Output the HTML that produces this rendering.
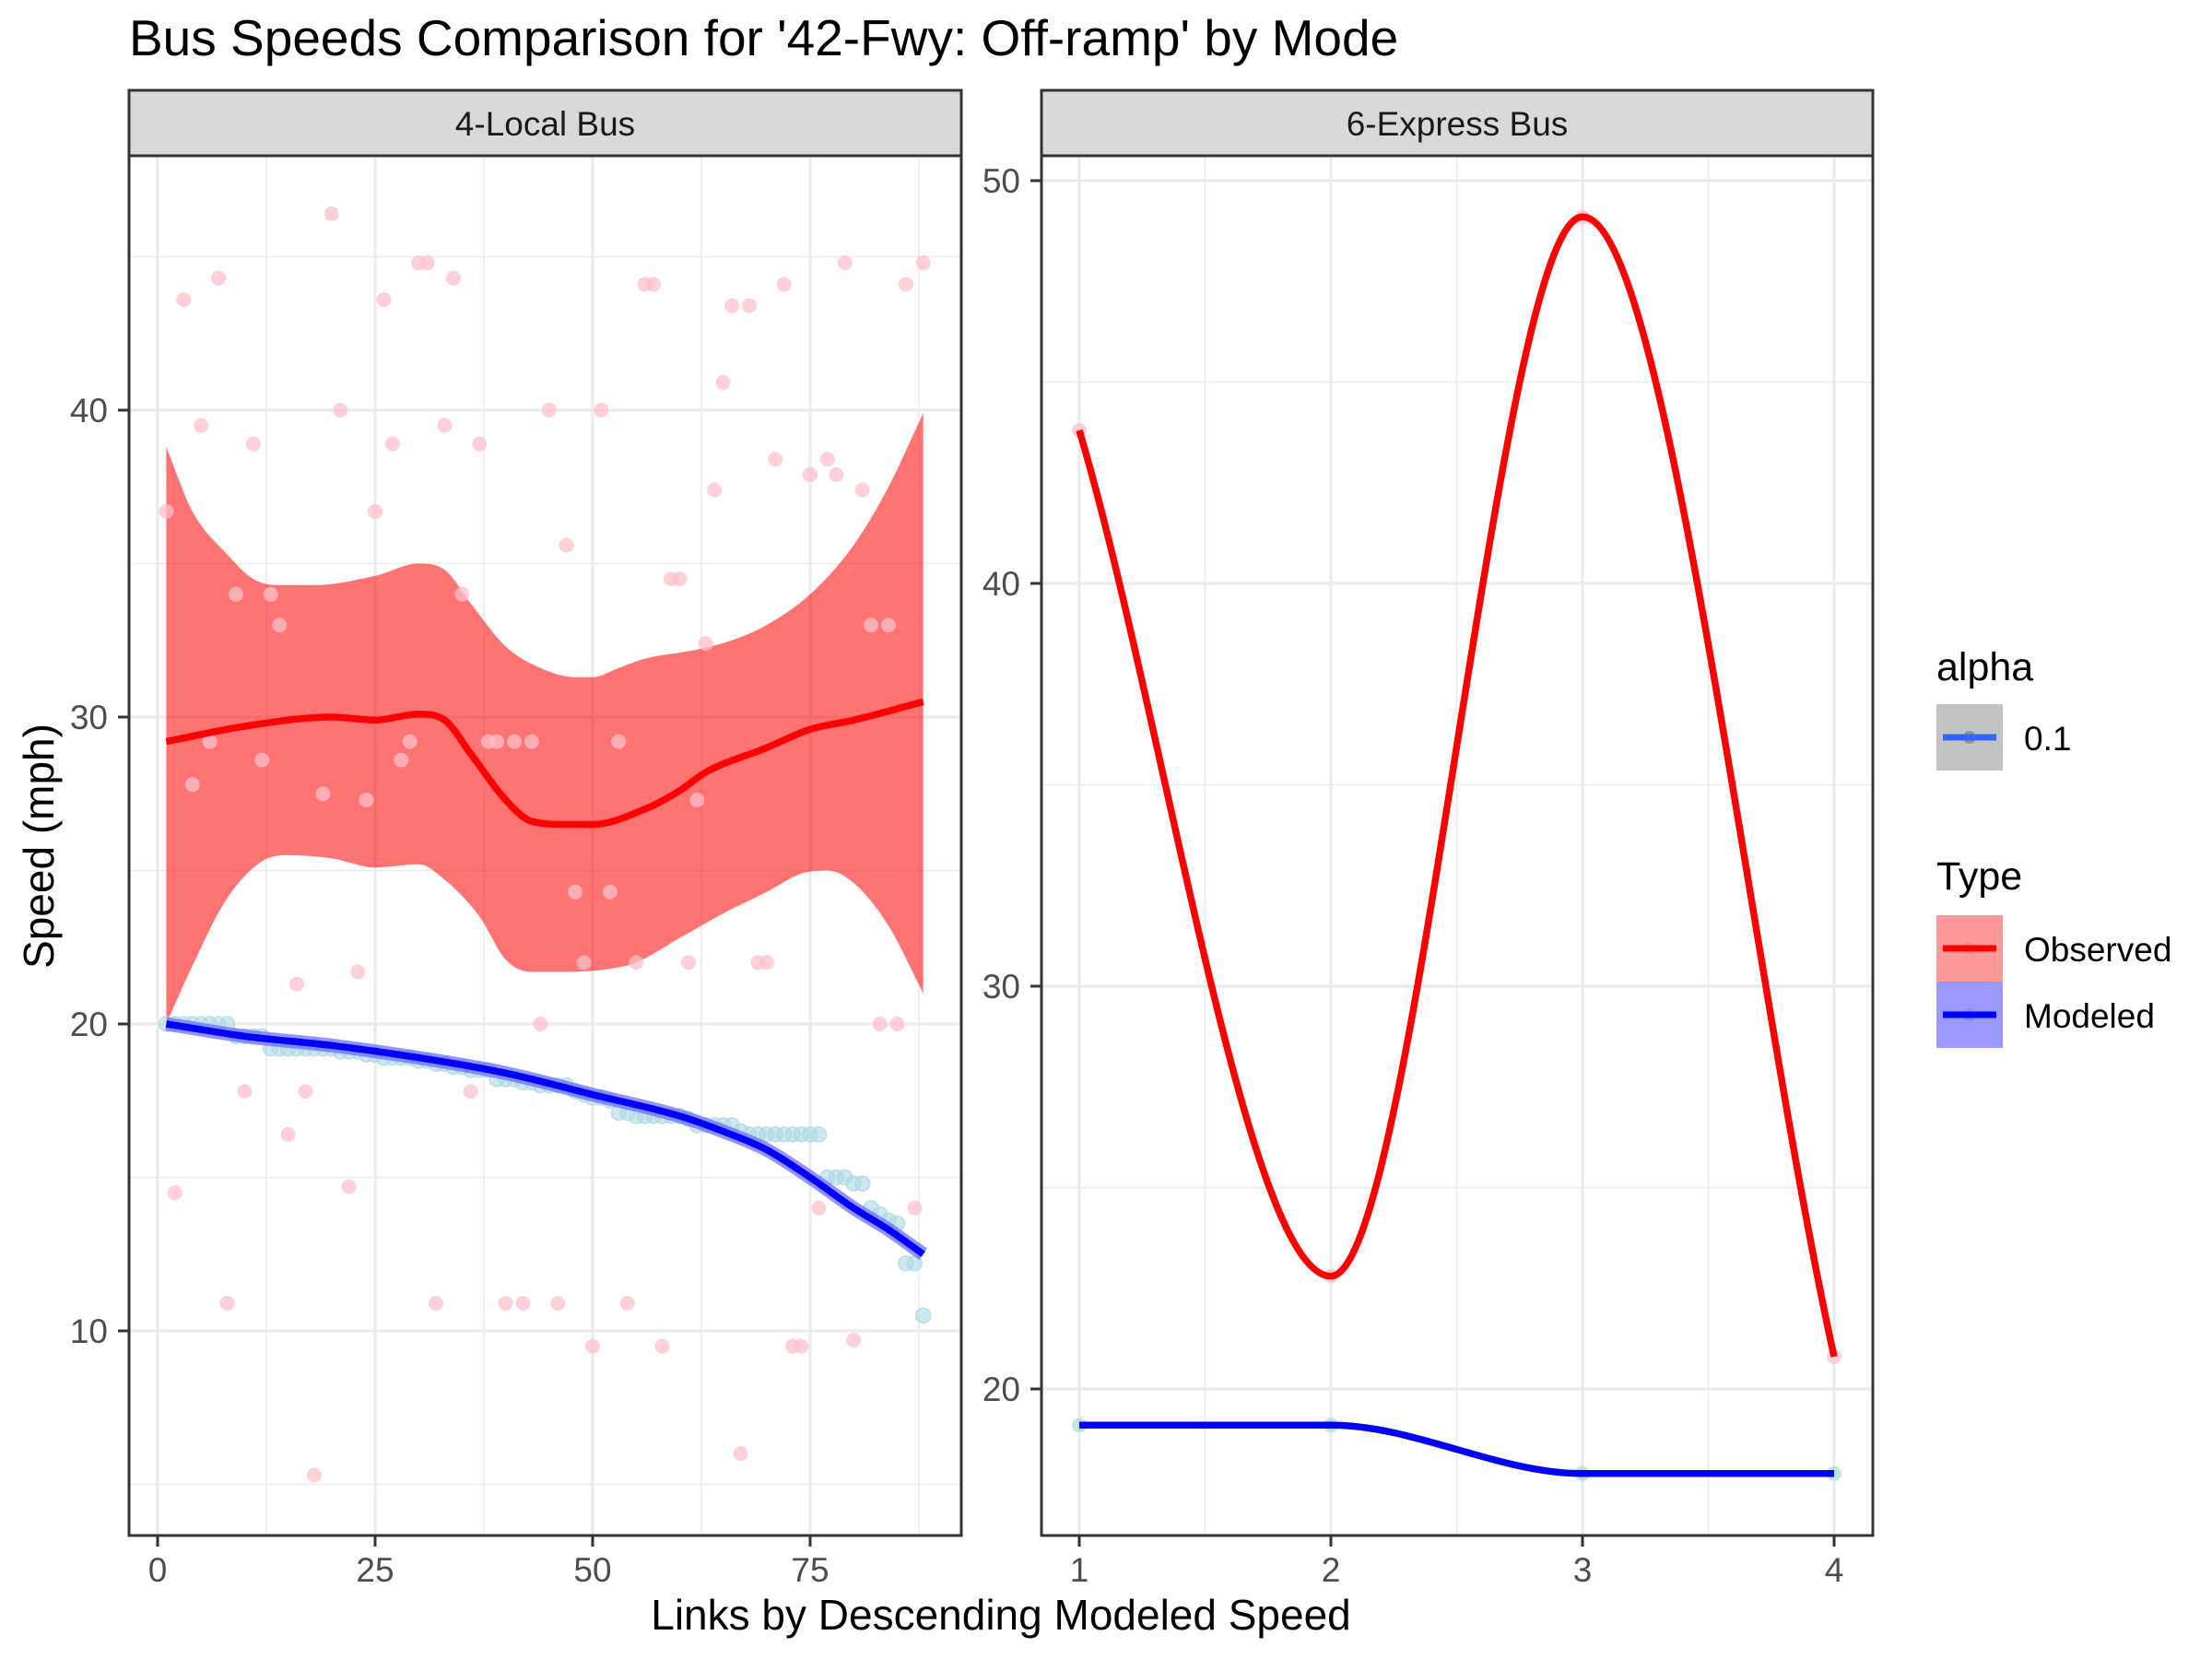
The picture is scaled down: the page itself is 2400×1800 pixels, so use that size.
<!DOCTYPE html>
<html><head><meta charset="utf-8">
<style>
html,body{margin:0;padding:0;background:#fff;}
svg{display:block;font-family:"Liberation Sans",Arial,sans-serif;}
</style></head>
<body>
<svg id="chart" width="2400" height="1800" viewBox="0 0 2400 1800" xmlns="http://www.w3.org/2000/svg">
<rect width="2400" height="1800" fill="#fff"/>
<text x="140" y="60" font-size="55" fill="#000">Bus Speeds Comparison for '42-Fwy: Off-ramp' by Mode</text>
<g id="left"></g>
<g id="right"></g>
<text x="1086" y="1768" font-size="46" text-anchor="middle" fill="#000">Links by Descending Modeled Speed</text>
<text transform="translate(58,918) rotate(-90)" font-size="46" text-anchor="middle" fill="#000">Speed (mph)</text>
<g>
  <text x="2101" y="738" font-size="43" fill="#000">alpha</text>
  <g>
    <rect x="2101" y="764" width="72" height="72" fill="#C2C2C2"/>
    <circle cx="2137" cy="800" r="7" fill="#808080" opacity="0.7"/>
    <line x1="2108" y1="800" x2="2166" y2="800" stroke="#3366FF" stroke-width="7"/>
    <text x="2196" y="814" font-size="37" fill="#000">0.1</text>
  </g>
  <text x="2101" y="965" font-size="43" fill="#000">Type</text>
  <g>
    <rect x="2101" y="993" width="72" height="72" fill="#FF9999"/>
    <circle cx="2137" cy="1029" r="7" fill="#FF7F7F" opacity="0.6"/>
    <line x1="2108" y1="1029" x2="2166" y2="1029" stroke="#FF0000" stroke-width="7"/>
    <text x="2196" y="1043" font-size="37" fill="#000">Observed</text>
  </g>
  <g>
    <rect x="2101" y="1065" width="72" height="72" fill="#9999FF"/>
    <circle cx="2137" cy="1101" r="7" fill="#7F7FFF" opacity="0.6"/>
    <line x1="2108" y1="1101" x2="2166" y2="1101" stroke="#0000FF" stroke-width="7"/>
    <text x="2196" y="1115" font-size="37" fill="#000">Modeled</text>
  </g>
</g>
</svg>
<script>
// ---- Left panel data (4-Local Bus) ----
const localObserved = [36.7,14.5,43.6,27.8,39.5,29.2,44.3,10.9,34,17.8,38.9,28.6,34,33,16.4,21.3,17.8,5.3,27.5,46.4,40,14.7,21.7,27.3,36.7,43.6,38.9,28.6,29.2,44.8,44.8,10.9,39.5,44.3,34,17.8,38.9,29.2,29.2,10.9,29.2,10.9,29.2,20,40,10.9,35.6,24.3,22,9.5,40,24.3,29.2,10.9,22,44.1,44.1,9.5,34.5,34.5,22,27.3,32.4,37.4,40.9,43.4,6,43.4,22,22,38.4,44.1,9.5,9.5,37.9,14,38.4,37.9,44.8,9.7,37.4,33,20,33,20,44.1,14,44.8];
const localModeled = [20,20,20,20,20,20,20,20,19.6,19.6,19.6,19.6,19.2,19.2,19.2,19.2,19.2,19.2,19.2,19.2,19.1,19.1,19.1,19.0,19.0,18.9,18.9,18.9,18.9,18.8,18.8,18.7,18.7,18.6,18.6,18.5,18.5,18.5,18.2,18.2,18.2,18.1,18.1,18.0,18.0,18.0,18.0,17.8,17.7,17.6,17.6,17.5,17.1,17.1,17.0,17.0,17.0,17.0,17.0,17.0,16.9,16.7,16.7,16.7,16.7,16.7,16.5,16.4,16.4,16.4,16.4,16.4,16.4,16.4,16.4,16.4,15.0,15.0,15.0,14.8,14.8,14.0,13.8,13.6,13.5,12.2,12.2,10.5];
const obsSmoothX = [1,10,20,25,30,33,36,40,43,47,50,56,60,63,70,75,80,88];
const obsSmoothY = [29.2,29.7,30,29.9,30.1,29.9,28.8,27.3,26.6,26.5,26.5,27,27.6,28.2,29,29.6,29.9,30.5];
const obsUpperX = [1,4,8,11,14,18,25,30,33,36,40,44,48,50,53,56,62,66,70,75,80,84,88];
const obsUpperY = [38.8,36.7,35.3,34.5,34.3,34.3,34.6,35,34.8,33.7,32.3,31.6,31.3,31.3,31.6,31.9,32.2,32.5,33,34,35.6,37.5,39.9];
const obsLowerX = [1,4,8,12,15,20,25,30,33,37,40,43,47,52,55,60,65,70,74,77,80,84,88];
const obsLowerY = [20,21.9,24.1,25.3,25.5,25.4,25.1,25.2,24.7,23.5,22.1,21.7,21.7,21.8,22,22.8,23.6,24.3,24.9,25,24.6,23.2,21];
const modSmoothX = [1,10,20,30,40,50,60,65,70,75,80,84,88];
const modSmoothY = [20,19.6,19.3,18.9,18.4,17.7,17.0,16.5,15.9,15.0,14.0,13.3,12.5];
const localXTicks = [0,25,50,75];
const localYTicks = [10,20,30,40];
// ---- Right panel data (6-Express Bus) ----
const expressX = [1,2,3,4];
const expressObserved = [43.8,22.8,49.1,20.8];
const expressModeled = [19.1,19.1,17.9,17.9];
const expressXTicks = [1,2,3,4];
const expressYTicks = [20,30,40,50];

const NS = "http://www.w3.org/2000/svg";
function mk(parent, tag, attrs){ const e=document.createElementNS(NS,tag); for(const k in attrs) e.setAttribute(k,attrs[k]); parent.appendChild(e); return e; }

function monoPath(xs, ys, sx, sy){
  const n=xs.length, d=[], m=new Array(n);
  for(let i=0;i<n-1;i++) d.push((ys[i+1]-ys[i])/(xs[i+1]-xs[i]));
  m[0]=d[0]; m[n-1]=d[n-2];
  for(let i=1;i<n-1;i++){ m[i]=(d[i-1]*d[i]<=0)?0:(d[i-1]+d[i])/2; }
  for(let i=0;i<n-1;i++){ if(d[i]===0){m[i]=0;m[i+1]=0;continue;} const a=m[i]/d[i], b=m[i+1]/d[i], s=a*a+b*b; if(s>9){const t=3/Math.sqrt(s); m[i]=t*a*d[i]; m[i+1]=t*b*d[i];} }
  let p="M"+sx(xs[0]).toFixed(1)+","+sy(ys[0]).toFixed(1);
  for(let i=0;i<n-1;i++){ const h=xs[i+1]-xs[i];
    p+=" C"+sx(xs[i]+h/3).toFixed(1)+","+sy(ys[i]+m[i]*h/3).toFixed(1)+" "+sx(xs[i+1]-h/3).toFixed(1)+","+sy(ys[i+1]-m[i+1]*h/3).toFixed(1)+" "+sx(xs[i+1]).toFixed(1)+","+sy(ys[i+1]).toFixed(1); }
  return p;
}
function monoPts(xs, ys, sx, sy){ // path commands without initial M, for band building
  return monoPath(xs,ys,sx,sy).replace(/^M[^C]*/,"");
}

function panel(g, cfg){
  const {L,R,T,B,x0,xs,y0,ys,title} = cfg;
  const sx=v=>x0+(v-cfg.xa)*xs, sy=v=>y0-(v-cfg.ya)*ys;
  mk(g,"rect",{x:L,y:T,width:R-L,height:B-T,fill:"#fff"});
  const grid=mk(g,"g",{});
  
  
  cfg.yMinor.forEach(v=>mk(grid,"line",{x1:L,x2:R,y1:sy(v),y2:sy(v),stroke:"#EBEBEB","stroke-width":1.6}));
  cfg.xMinor.forEach(v=>mk(grid,"line",{y1:T,y2:B,x1:sx(v),x2:sx(v),stroke:"#EBEBEB","stroke-width":1.6}));
  cfg.yTicks.forEach(v=>mk(grid,"line",{x1:L,x2:R,y1:sy(v),y2:sy(v),stroke:"#EBEBEB","stroke-width":3.2}));
  cfg.xTicks.forEach(v=>mk(grid,"line",{y1:T,y2:B,x1:sx(v),x2:sx(v),stroke:"#EBEBEB","stroke-width":3.2}));
  cfg.draw(g,sx,sy);
  const border=mk(g,"rect",{x:L,y:T,width:R-L,height:B-T,fill:"none",stroke:"#333","stroke-width":3});
  
  
  const strip=mk(g,"rect",{x:L,y:98,width:R-L,height:T-98,fill:"#D9D9D9",stroke:"#333","stroke-width":3});
  
  
  const st=mk(g,"text",{x:(L+R)/2,y:147,"font-size":37,"text-anchor":"middle",fill:"#1A1A1A"}); st.textContent=title;
  
  
  cfg.yTicks.forEach(v=>{ mk(g,"line",{x1:L-12,x2:L,y1:sy(v),y2:sy(v),stroke:"#333","stroke-width":3});
    const t=mk(g,"text",{x:L-23,y:sy(v)+13,"font-size":37,"text-anchor":"end",fill:"#4D4D4D"}); t.textContent=v;
    
     });
  cfg.xTicks.forEach(v=>{ mk(g,"line",{y1:B,y2:B+12,x1:sx(v),x2:sx(v),stroke:"#333","stroke-width":3});
    const t=mk(g,"text",{x:sx(v),y:B+50,"font-size":37,"text-anchor":"middle",fill:"#4D4D4D"}); t.textContent=v;
    
     });
}

panel(document.getElementById("left"),{
  L:140,R:1043,T:169,B:1666,x0:171,xa:0,xs:9.44,y0:1111,ya:20,ys:33.3,title:"4-Local Bus",
  xTicks:localXTicks,yTicks:localYTicks,xMinor:[12.5,37.5,62.5,87.5],yMinor:[5,15,25,35,45],
  draw:(g,sx,sy)=>{
    const up=monoPath(obsUpperX,obsUpperY,sx,sy);
    const lx=obsLowerX.slice().reverse(), ly=obsLowerY.slice().reverse();
    const low=monoPath(lx.map(v=>-v),ly,v=>sx(-v),sy).replace(/^M/," L");
    const band=mk(g,"path",{d:up+low+"Z",fill:"#FF0000","fill-opacity":0.55});
    
    
    localObserved.forEach((v,i)=>{ const c=mk(g,"circle",{cx:sx(i+1),cy:sy(v),r:8,fill:"#FFC0CB","fill-opacity":0.75});
      
       });
    localModeled.forEach((v,i)=>{ const c=mk(g,"circle",{cx:sx(i+1),cy:sy(v),r:8,fill:"#ADD8E6","fill-opacity":0.6,stroke:"#ADD8E6","stroke-opacity":0.8,"stroke-width":1.5});
      
       });
    const mb=mk(g,"path",{d:monoPath(modSmoothX,modSmoothY,sx,sy),fill:"none",stroke:"#6666FF","stroke-width":15,"stroke-opacity":0.7});
    
    
    const ml=mk(g,"path",{d:monoPath(modSmoothX,modSmoothY,sx,sy),fill:"none",stroke:"#0000FF","stroke-width":7.5});
    
    
    const ol=mk(g,"path",{d:monoPath(obsSmoothX,obsSmoothY,sx,sy),fill:"none",stroke:"#FF0000","stroke-width":7.5});
    
    
  }
});

panel(document.getElementById("right"),{
  L:1130,R:2032,T:169,B:1666,x0:1171,xa:1,xs:273,y0:1507,ya:20,ys:43.7,title:"6-Express Bus",
  xTicks:expressXTicks,yTicks:expressYTicks,xMinor:[1.5,2.5,3.5],yMinor:[25,35,45],
  draw:(g,sx,sy)=>{
    expressX.forEach((x,i)=>{ const c=mk(g,"circle",{cx:sx(x),cy:sy(expressObserved[i]),r:8,fill:"#FFC0CB","fill-opacity":0.75});
      
      
      const d=mk(g,"circle",{cx:sx(x),cy:sy(expressModeled[i]),r:8,fill:"#ADD8E6","fill-opacity":0.75});
      
       });
    const ol=mk(g,"path",{d:monoPath(expressX,expressObserved,sx,sy),fill:"none",stroke:"#FF0000","stroke-width":7.5});
    
    
    const ml=mk(g,"path",{d:monoPath(expressX,expressModeled,sx,sy),fill:"none",stroke:"#0000FF","stroke-width":7.5});
    
    
  }
});
</script>
</body></html>
